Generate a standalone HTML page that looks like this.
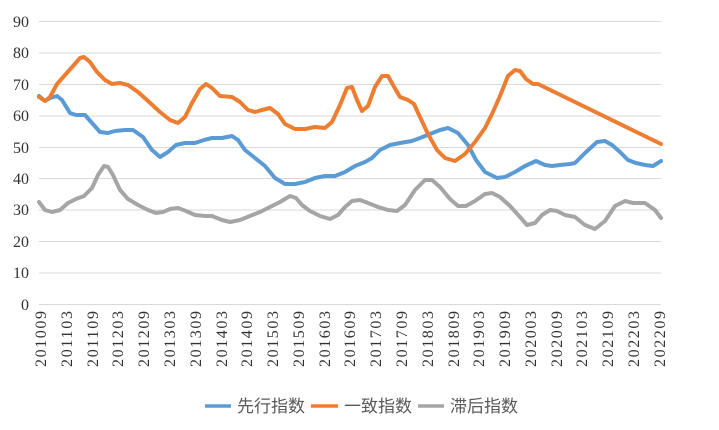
<!DOCTYPE html>
<html><head><meta charset="utf-8"><style>
html,body{margin:0;padding:0;background:#fff;}
svg{display:block;}
.ser{font-family:"Liberation Serif",serif;}
</style></head><body>
<svg width="719" height="430" xmlns="http://www.w3.org/2000/svg">
<g stroke="#d9d9d9" stroke-width="1">
<line x1="39" x2="661" y1="21.5" y2="21.5"/><line x1="39" x2="661" y1="53" y2="53"/><line x1="39" x2="661" y1="84.5" y2="84.5"/><line x1="39" x2="661" y1="116" y2="116"/><line x1="39" x2="661" y1="147.5" y2="147.5"/><line x1="39" x2="661" y1="178.5" y2="178.5"/><line x1="39" x2="661" y1="210" y2="210"/><line x1="39" x2="661" y1="241.5" y2="241.5"/><line x1="39" x2="661" y1="273" y2="273"/><line x1="39" x2="661" y1="304.5" y2="304.5"/>
</g>
<g class="ser" font-size="16" fill="#333" text-anchor="end">
<text x="29" y="27">90</text><text x="29" y="58">80</text><text x="29" y="90">70</text><text x="29" y="121">60</text><text x="29" y="153">50</text><text x="29" y="184">40</text><text x="29" y="215">30</text><text x="29" y="247">20</text><text x="29" y="278">10</text><text x="29" y="310">0</text>
</g>
<g fill="none" stroke-width="4" stroke-linejoin="round" stroke-linecap="round">
<polyline stroke="#a5a5a5" points="39,202 45,210 52,212 60,210 68,203 76,199 84,196 92,188 98,175 104,166 108,167 113,175 120,190 128,199 138,205 148,210 156,213 163,212 170,209 178,208 186,211 195,215 205,216 212,216 222,220 230,222 240,220 250,216 260,212 270,207 280,202 290,196 296,198 302,205 310,211 320,216 330,219 338,215 345,207 352,201 360,200 368,203 378,207 388,210 397,211 405,205 415,190 425,180 432,180 440,187 450,199 458,206 466,206 475,201 485,194 492,193 500,197 510,206 520,217 527,225 535,223 542,215 550,210 557,211 565,215 575,217 585,225 595,229 605,221 615,206 625,201 633,203 645,203 655,210 661,218"/>
<polyline stroke="#5b9bd5" points="39,96 45,101 50,98 57,96 62,100 70,113 76,115 85,115 92,123 100,132 108,133 115,131 125,130 133,130 143,137 152,150 160,157 168,152 176,145 185,143 195,143 204,140 212,138 222,138 232,136 238,140 245,150 255,158 265,166 275,178 285,184 295,184 305,182 315,178 325,176 335,176 345,172 355,166 365,162 372,158 380,150 390,145 400,143 412,141 420,138 430,134 440,130 448,128 458,133 468,145 476,160 485,172 497,178 505,177 515,172 525,166 536,161 545,165 552,166 560,165 570,164 575,163 585,153 597,142 605,141 612,145 620,152 628,160 636,163 645,165 653,166 661,161"/>
<polyline stroke="#ed7d31" points="39,97 45,101 50,97 57,84 65,75 73,66 80,58 84,57 90,62 97,72 105,80 112,84 120,83 128,85 138,92 148,101 160,112 170,120 178,123 185,117 192,103 200,89 206,84 212,88 220,96 232,97 240,102 248,110 255,112 262,110 270,108 278,114 285,124 295,129 305,129 315,127 325,128 332,122 340,105 347,88 352,87 357,100 362,111 368,106 375,87 382,76 388,76 393,85 400,97 408,100 414,104 420,117 428,134 437,150 445,158 455,161 465,154 475,142 485,128 492,114 500,96 508,76 515,70 520,71 526,79 533,84 538,84 661,144"/>
</g>
<g stroke-width="3.5">
<line x1="205" x2="231" y1="406" y2="406" stroke="#5b9bd5"/>
<line x1="311" x2="338" y1="406" y2="406" stroke="#ed7d31"/>
<line x1="418" x2="444" y1="406" y2="406" stroke="#a5a5a5"/>
</g>
<g style="font-family:'Liberation Sans','Noto Sans CJK SC',sans-serif" font-size="17" fill="#595959">
<text x="237" y="412">先行指数</text><text x="344" y="412">一致指数</text><text x="450" y="412">滞后指数</text>
</g>
<g class="ser" font-size="16" fill="#333" text-anchor="end">
<text transform="translate(46,311) rotate(-90)" textLength="56">201009</text>
<text transform="translate(72,311) rotate(-90)" textLength="56">201103</text>
<text transform="translate(98,311) rotate(-90)" textLength="56">201109</text>
<text transform="translate(123,311) rotate(-90)" textLength="56">201203</text>
<text transform="translate(149,311) rotate(-90)" textLength="56">201209</text>
<text transform="translate(175,311) rotate(-90)" textLength="56">201303</text>
<text transform="translate(201,311) rotate(-90)" textLength="56">201309</text>
<text transform="translate(227,311) rotate(-90)" textLength="56">201403</text>
<text transform="translate(252,311) rotate(-90)" textLength="56">201409</text>
<text transform="translate(278,311) rotate(-90)" textLength="56">201503</text>
<text transform="translate(304,311) rotate(-90)" textLength="56">201509</text>
<text transform="translate(330,311) rotate(-90)" textLength="56">201603</text>
<text transform="translate(355,311) rotate(-90)" textLength="56">201609</text>
<text transform="translate(381,311) rotate(-90)" textLength="56">201703</text>
<text transform="translate(407,311) rotate(-90)" textLength="56">201709</text>
<text transform="translate(433,311) rotate(-90)" textLength="56">201803</text>
<text transform="translate(459,311) rotate(-90)" textLength="56">201809</text>
<text transform="translate(484,311) rotate(-90)" textLength="56">201903</text>
<text transform="translate(510,311) rotate(-90)" textLength="56">201909</text>
<text transform="translate(536,311) rotate(-90)" textLength="56">202003</text>
<text transform="translate(562,311) rotate(-90)" textLength="56">202009</text>
<text transform="translate(587,311) rotate(-90)" textLength="56">202103</text>
<text transform="translate(613,311) rotate(-90)" textLength="56">202109</text>
<text transform="translate(639,311) rotate(-90)" textLength="56">202203</text>
<text transform="translate(665,311) rotate(-90)" textLength="56">202209</text>
</g>
</svg>
</body></html>
